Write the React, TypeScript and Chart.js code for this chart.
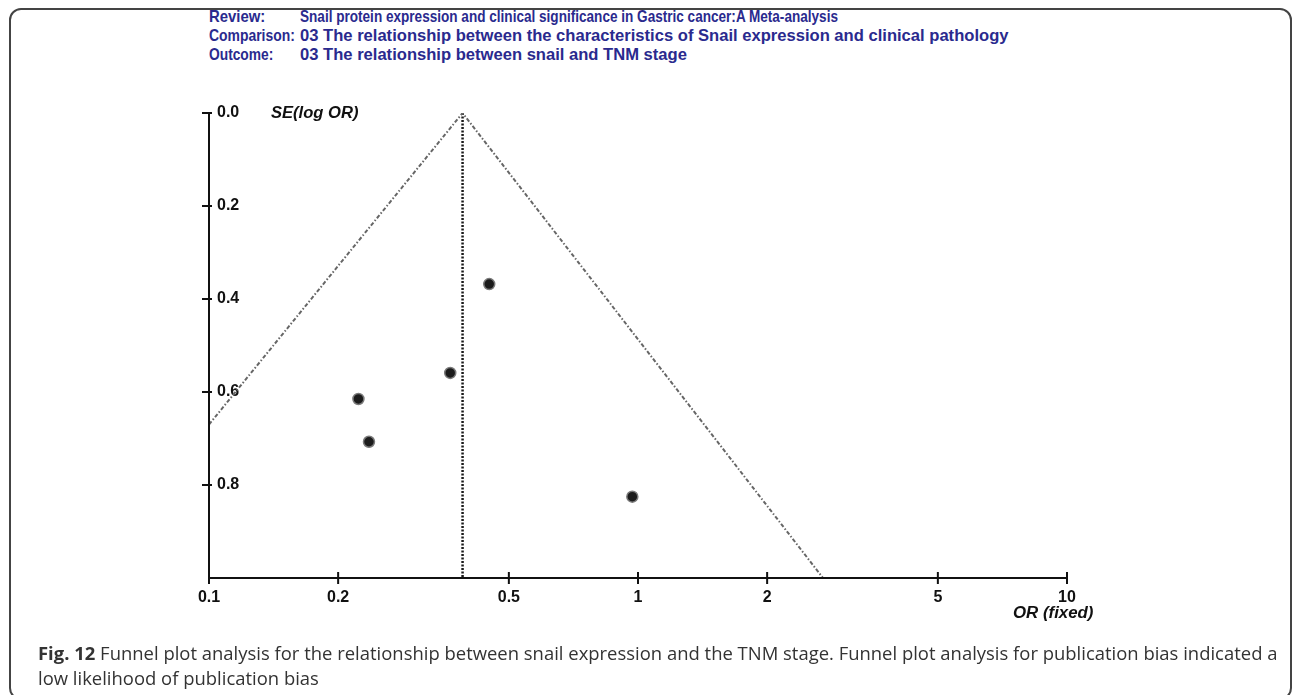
import React, { useEffect, useLayoutEffect, useRef, useState } from "react";
import { Chart, registerables } from "chart.js";

Chart.register(...registerables);

// ---- Data ----
const headerLabels = ["Review:", "Comparison:", "Outcome:"];
const headerTexts = [
  "Snail protein expression and clinical significance in Gastric cancer:A Meta-analysis",
  "03 The relationship between the characteristics of Snail expression and clinical pathology",
  "03 The relationship between snail and TNM stage",
];
const headerLabelWidths = [56, 86, 64];
const reviewTextWidth = 538;
const comparisonTextWidth = 708;

const studyOR = [0.45, 0.365, 0.223, 0.236, 0.97];
const studySE = [0.368, 0.559, 0.615, 0.707, 0.825];

const pooledOR = 0.39;
const pooledLineSE = [0, 1.0];
const funnelOR = [0.1, 0.39, 2.7];
const funnelSE = [0.67, 0, 1.0];

const xTicks = [0.1, 0.2, 0.5, 1, 2, 5, 10];
const yTicks = [0, 0.2, 0.4, 0.6, 0.8];

const yAxisTitle = "SE(log OR)";
const xAxisTitle = "OR (fixed)";
const captionBold = "Fig. 12";
const captionLine1 =
  " Funnel plot analysis for the relationship between snail expression and the TNM stage. Funnel plot analysis for publication bias indicated a";
const captionLine2 = "low likelihood of publication bias";

// ---- Layout ----
const W = 1292;
const H = 695;
const AREA = { left: 209, right: 1067, top: 113, bottom: 578 };
const X_SCALE_H = 40;

function useFitScale(target: number) {
  const ref = useRef<HTMLSpanElement>(null);
  const [s, setS] = useState(1);
  useLayoutEffect(() => {
    if (ref.current) {
      const w = ref.current.offsetWidth;
      if (w > 0) setS(target / w);
    }
  }, [target]);
  return [ref, s] as const;
}

function FitText(props: {
  text: React.ReactNode;
  width: number;
  left: number;
  top: number;
  style: React.CSSProperties;
}) {
  const [ref, s] = useFitScale(props.width);
  return (
    <div
      style={{
        position: "absolute",
        left: props.left,
        top: props.top,
        whiteSpace: "nowrap",
        ...props.style,
      }}
    >
      <span
        ref={ref}
        style={{
          display: "inline-block",
          transform: `scaleX(${s})`,
          transformOrigin: "left center",
        }}
      >
        {props.text}
      </span>
    </div>
  );
}

const headerStyle: React.CSSProperties = {
  fontFamily: "'Liberation Sans Narrow', 'Liberation Sans', Arial, sans-serif",
  fontWeight: "bold",
  fontSize: 17,
  lineHeight: "18px",
  color: "#2a2a8e",
};
const rowY = [17, 36, 55];

function Header() {
  const [ref2, s2] = useFitScale(comparisonTextWidth);
  const span: React.CSSProperties = {
    display: "inline-block",
    transform: `scaleX(${s2})`,
    transformOrigin: "left center",
  };
  const base: React.CSSProperties = { ...headerStyle, position: "absolute", whiteSpace: "nowrap", left: 300 };
  return (
    <>
      {headerLabels.map((t, i) => (
        <FitText key={"l" + i} text={t} width={headerLabelWidths[i]} left={209} top={rowY[i] - 9} style={headerStyle} />
      ))}
      <FitText text={headerTexts[0]} width={reviewTextWidth} left={300} top={rowY[0] - 9} style={headerStyle} />
      <div style={{ ...base, top: rowY[1] - 9 }}>
        <span ref={ref2} style={span}>
          {headerTexts[1]}
        </span>
      </div>
      <div style={{ ...base, top: rowY[2] - 9 }}>
        <span style={span}>{headerTexts[2]}</span>
      </div>
    </>
  );
}

function Caption() {
  const [ref, s] = useFitScale(1239);
  const base: React.CSSProperties = {
    position: "absolute",
    left: 38,
    whiteSpace: "nowrap",
    fontFamily: "'Open Sans', 'Noto Sans', sans-serif",
    fontSize: 18,
    lineHeight: "24px",
    color: "#333",
  };
  const span: React.CSSProperties = {
    display: "inline-block",
    transform: `scaleX(${s})`,
    transformOrigin: "left center",
  };
  return (
    <>
      <div style={{ ...base, top: 641 }}>
        <span ref={ref} style={span}>
          <b>{captionBold}</b>
          {captionLine1}
        </span>
      </div>
      <div style={{ ...base, top: 666 }}>
        <span style={span}>{captionLine2}</span>
      </div>
    </>
  );
}

const axesPlugin = {
  id: "funnelAxes",
  afterDatasetsDraw(chart: any) {
    const { ctx, chartArea, scales } = chart;
    const { left, right, top, bottom } = chartArea;
    ctx.save();
    ctx.strokeStyle = "#111";
    ctx.lineWidth = 2;
    ctx.beginPath();
    ctx.moveTo(left, top);
    ctx.lineTo(left, bottom + 1);
    ctx.moveTo(left, bottom);
    ctx.lineTo(right, bottom);
    for (const v of xTicks) {
      const px = scales.x.getPixelForValue(v);
      ctx.moveTo(px, bottom - 6);
      ctx.lineTo(px, bottom + 6);
    }
    for (const v of yTicks) {
      const py = scales.y.getPixelForValue(v);
      ctx.moveTo(left - 7, py);
      ctx.lineTo(left + 3, py);
    }
    ctx.stroke();
    ctx.restore();
  },
};

function FunnelChart() {
  const canvasRef = useRef<HTMLCanvasElement>(null);
  useEffect(() => {
    if (!canvasRef.current) return;
    const tickFont = { family: "'Liberation Sans', Arial, sans-serif", size: 16, weight: "bold" as const };
    const chart = new Chart(canvasRef.current, {
      type: "scatter",
      data: {
        datasets: [
          {
            label: "funnel",
            data: funnelOR.map((x, i) => ({ x, y: funnelSE[i] })),
            showLine: true,
            borderColor: "#666",
            borderWidth: 2,
            borderDash: [4, 2, 1.5, 2],
            pointRadius: 0,
            fill: false,
          },
          {
            label: "pooled",
            data: pooledLineSE.map((y) => ({ x: pooledOR, y })),
            showLine: true,
            borderColor: "#1a1a1a",
            borderWidth: 2.5,
            borderDash: [2, 1.5],
            pointRadius: 0,
            fill: false,
          },
          {
            label: "studies",
            data: studyOR.map((x, i) => ({ x, y: studySE[i] })),
            showLine: false,
            pointRadius: 5.5,
            pointBackgroundColor: "#1c1c1c",
            pointBorderColor: "#7a7a7a",
            pointBorderWidth: 1.5,
          },
        ],
      },
      options: {
        animation: false,
        responsive: false,
        maintainAspectRatio: false,
        layout: {
          padding: {
            left: AREA.left,
            right: W - AREA.right,
            top: AREA.top,
            bottom: H - AREA.bottom - X_SCALE_H,
          },
        },
        plugins: {
          legend: { display: false },
          tooltip: { enabled: false },
          title: { display: false },
        },
        scales: {
          x: {
            type: "logarithmic",
            min: 0.1,
            max: 10,
            position: "bottom",
            grid: { display: false, drawTicks: false },
            border: { display: false },
            afterFit: (scale: any) => {
              scale.height = X_SCALE_H;
            },
            afterBuildTicks: (scale: any) => {
              scale.ticks = xTicks.map((value) => ({ value }));
            },
            ticks: {
              autoSkip: false,
              maxRotation: 0,
              minRotation: 0,
              padding: 10,
              color: "#111",
              font: tickFont,
              callback: (v: any) => String(v),
            },
          },
          y: {
            type: "linear",
            reverse: true,
            min: 0,
            max: 1,
            position: "left",
            grid: { display: false, drawTicks: false },
            border: { display: false },
            afterFit: (scale: any) => {
              scale.width = 0;
            },
            afterBuildTicks: (scale: any) => {
              scale.ticks = yTicks.map((value) => ({ value }));
            },
            ticks: {
              mirror: true,
              padding: 8,
              color: "#111",
              font: tickFont,
              callback: (v: any) => Number(v).toFixed(1),
            },
          },
        },
      },
      plugins: [axesPlugin],
    });
    return () => chart.destroy();
  }, []);
  return (
    <canvas
      ref={canvasRef}
      width={W}
      height={H}
      style={{ position: "absolute", left: 0, top: 0, width: W, height: H }}
    />
  );
}

export default function App() {
  const axisTitleStyle: React.CSSProperties = {
    fontFamily: "'Liberation Sans', Arial, sans-serif",
    fontWeight: "bold",
    fontStyle: "italic",
    fontSize: 16,
    lineHeight: "20px",
    color: "#111",
  };
  return (
    <div
      style={{
        position: "fixed",
        left: 0,
        top: 0,
        width: W,
        height: H,
        overflow: "hidden",
        background: "#fff",
      }}
    >
      <div
        style={{
          position: "absolute",
          left: 9,
          top: 8,
          width: 1283,
          height: 692,
          boxSizing: "border-box",
          border: "2px solid #444",
          borderRadius: 12,
        }}
      />
      <Header />
      <FunnelChart />
      <FitText text={yAxisTitle} width={87} left={271} top={103} style={axisTitleStyle} />
      <FitText text={xAxisTitle} width={80} left={1013} top={603} style={axisTitleStyle} />
      <Caption />
    </div>
  );
}
